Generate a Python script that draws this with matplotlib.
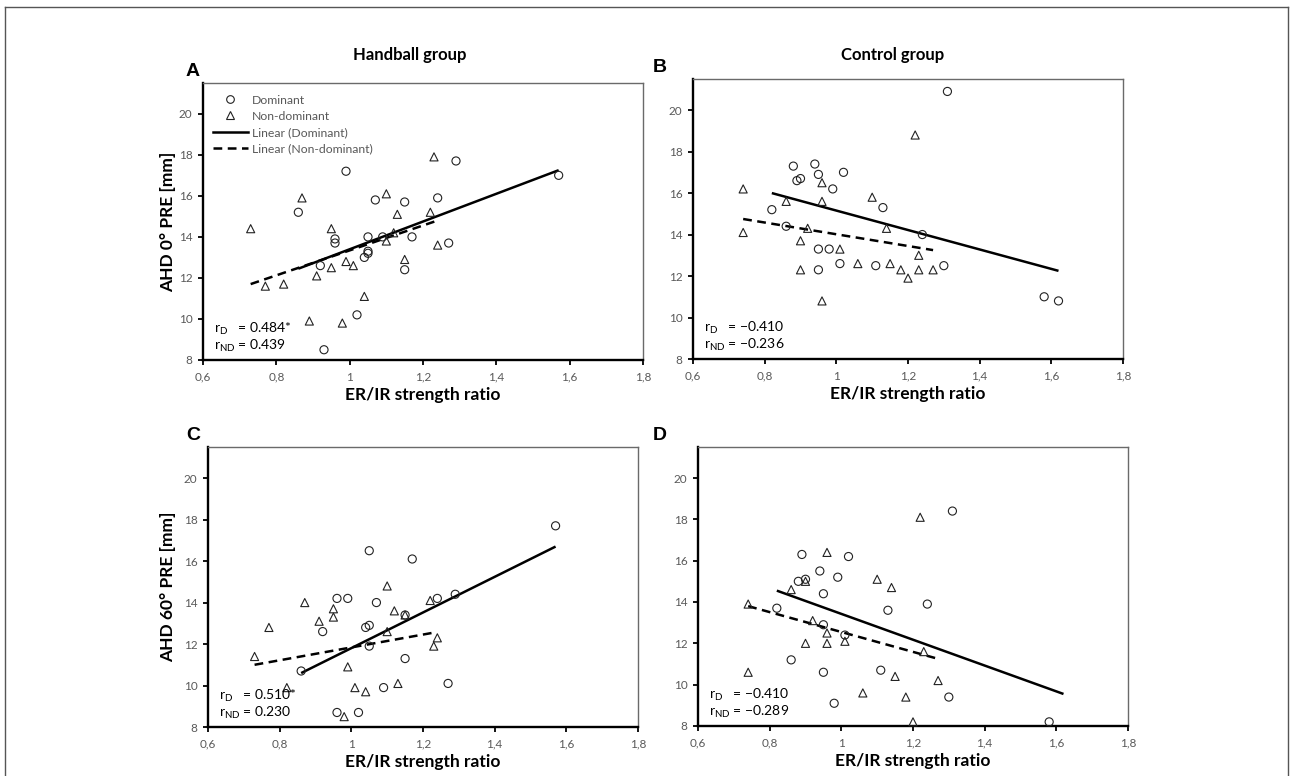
import matplotlib
matplotlib.use('Agg')
import matplotlib.pyplot as plt
from matplotlib.lines import Line2D

plt.rcParams['font.family'] = ['Lato', 'DejaVu Sans']
plt.rcParams['mathtext.fontset'] = 'custom'
plt.rcParams['mathtext.rm'] = 'Lato'

# axis settings
xticks = [0.6, 0.8, 1.0, 1.2, 1.4, 1.6, 1.8]
xticklabels = ['0,6', '0,8', '1', '1,2', '1,4', '1,6', '1,8']
yticks = [8, 10, 12, 14, 16, 18, 20]

# panel A: handball, AHD 0°
a_dom_x = [0.99, 0.86, 0.96, 0.96, 0.92, 1.02, 0.93, 1.04, 1.05, 1.05, 1.05, 1.07, 1.09, 1.15, 1.15, 1.17, 1.24, 1.27, 1.29, 1.57]
a_dom_y = [17.2, 15.2, 13.9, 13.7, 12.6, 10.2, 8.5, 13.0, 13.3, 13.2, 14.0, 15.8, 14.0, 15.7, 12.4, 14.0, 15.9, 13.7, 17.7, 17.0]
a_nd_x = [0.73, 0.77, 0.82, 0.87, 0.89, 0.91, 0.95, 0.95, 0.98, 0.99, 1.01, 1.04, 1.10, 1.10, 1.12, 1.13, 1.15, 1.22, 1.23, 1.24]
a_nd_y = [14.4, 11.6, 11.7, 15.9, 9.9, 12.1, 14.4, 12.5, 9.8, 12.8, 12.6, 11.1, 16.1, 13.8, 14.2, 15.1, 12.9, 15.2, 17.9, 13.6]
a_fit_dom = ([0.86, 1.57], [12.45, 17.25])
a_fit_nd = ([0.73, 1.24], [11.7, 14.8])
a_r = ('0.484*', '0.439')

# panel B: control, AHD 0°
b_dom_x = [1.31, 0.88, 0.94, 0.89, 0.90, 0.95, 1.02, 0.99, 0.82, 0.86, 0.95, 0.98, 0.95, 1.01, 1.11, 1.13, 1.24, 1.30, 1.58, 1.62]
b_dom_y = [20.9, 17.3, 17.4, 16.6, 16.7, 16.9, 17.0, 16.2, 15.2, 14.4, 13.3, 13.3, 12.3, 12.6, 12.5, 15.3, 14.0, 12.5, 11.0, 10.8]
b_nd_x = [0.74, 0.74, 0.86, 0.90, 0.90, 0.92, 0.96, 0.96, 0.96, 1.01, 1.06, 1.10, 1.14, 1.15, 1.18, 1.20, 1.22, 1.23, 1.23, 1.27]
b_nd_y = [16.2, 14.1, 15.6, 13.7, 12.3, 14.3, 16.5, 15.6, 10.8, 13.3, 12.6, 15.8, 14.3, 12.6, 12.3, 11.9, 18.8, 13.0, 12.3, 12.3]
b_fit_dom = ([0.82, 1.62], [16.0, 12.25])
b_fit_nd = ([0.74, 1.27], [14.75, 13.25])
b_r = ('\u22120.410', '\u22120.236')

# panel C: handball, AHD 60°
c_dom_x = [1.57, 1.05, 1.17, 0.96, 0.99, 1.07, 1.24, 1.29, 1.15, 1.04, 1.05, 0.92, 1.05, 1.15, 0.86, 1.09, 1.27, 0.96, 1.02]
c_dom_y = [17.7, 16.5, 16.1, 14.2, 14.2, 14.0, 14.2, 14.4, 13.4, 12.8, 12.9, 12.6, 11.9, 11.3, 10.7, 9.9, 10.1, 8.7, 8.7]
c_nd_x = [0.73, 0.77, 0.82, 0.87, 0.91, 0.95, 0.95, 0.98, 0.99, 1.01, 1.04, 1.10, 1.10, 1.12, 1.13, 1.15, 1.22, 1.23, 1.24]
c_nd_y = [11.4, 12.8, 9.9, 14.0, 13.1, 13.7, 13.3, 8.5, 10.9, 9.9, 9.7, 14.8, 12.6, 13.6, 10.1, 13.4, 14.1, 11.9, 12.3]
c_fit_dom = ([0.86, 1.57], [10.6, 16.7])
c_fit_nd = ([0.73, 1.23], [11.0, 12.55])
c_r = ('0.510*', '0.230')

# panel D: control, AHD 60°
d_dom_x = [1.31, 0.89, 1.02, 0.94, 0.99, 0.88, 0.90, 0.95, 0.82, 1.13, 1.24, 0.95, 1.01, 0.86, 0.95, 1.11, 0.98, 1.30, 1.58]
d_dom_y = [18.4, 16.3, 16.2, 15.5, 15.2, 15.0, 15.1, 14.4, 13.7, 13.6, 13.9, 12.9, 12.4, 11.2, 10.6, 10.7, 9.1, 9.4, 8.2]
d_nd_x = [0.74, 0.74, 0.86, 0.90, 0.90, 0.92, 0.96, 0.96, 0.96, 1.01, 1.06, 1.10, 1.14, 1.15, 1.18, 1.20, 1.22, 1.23, 1.27]
d_nd_y = [13.9, 10.6, 14.6, 15.0, 12.0, 13.1, 16.4, 12.5, 12.0, 12.1, 9.6, 15.1, 14.7, 10.4, 9.4, 8.2, 18.1, 11.6, 10.2]
d_fit_dom = ([0.82, 1.62], [14.55, 9.55])
d_fit_nd = ([0.74, 1.27], [13.8, 11.25])
d_r = ('\u22120.410', '\u22120.289')

W, H = 1290, 776
fig = plt.figure(figsize=(W / 100, H / 100), dpi=100)

def px_axes(l, t, r, b):
    return fig.add_axes([l / W, 1 - b / H, (r - l) / W, (b - t) / H])

panels = [
    # letter, box (l, t, r, b) in pixels, letter x, data, ylabel
    ('A', (203, 83, 643, 360), 193, a_dom_x, a_dom_y, a_nd_x, a_nd_y, a_fit_dom, a_fit_nd, a_r, 'AHD 0° PRE [mm]'),
    ('B', (693, 79, 1123, 359), 660, b_dom_x, b_dom_y, b_nd_x, b_nd_y, b_fit_dom, b_fit_nd, b_r, None),
    ('C', (208, 447, 638, 727), 193, c_dom_x, c_dom_y, c_nd_x, c_nd_y, c_fit_dom, c_fit_nd, c_r, 'AHD 60° PRE [mm]'),
    ('D', (698, 447, 1128, 726), 660, d_dom_x, d_dom_y, d_nd_x, d_nd_y, d_fit_dom, d_fit_nd, d_r, None),
]

gray = '#595959'
mk = '#222222'
for letter, box, lx, dx, dy, nx, ny, fd, fn, rv, ylab in panels:
    l, t, r, b = box
    ax = px_axes(l, t, r, b)
    ax.set_xlim(0.6, 1.8)
    ax.set_ylim(8, 21.5)
    ax.set_xticks(xticks, labels=xticklabels)
    ax.set_yticks(yticks)
    ax.tick_params(direction='out', length=3.5, width=1.3, color='black',
                   labelcolor=gray, labelsize=8.5, pad=4)
    ax.tick_params(axis='x', pad=5)
    for s in ['left', 'bottom']:
        ax.spines[s].set_linewidth(1.7)
        ax.spines[s].set_color('black')
    for s in ['top', 'right']:
        ax.spines[s].set_linewidth(1.0)
        ax.spines[s].set_color('#6a6a6a')

    ax.scatter(dx, dy, s=34, marker='o', facecolors='none', edgecolors=mk,
               linewidths=0.8, clip_on=False, zorder=3)
    ax.scatter(nx, ny, s=34, marker='^', facecolors='none', edgecolors=mk,
               linewidths=0.8, clip_on=False, zorder=3)
    ax.plot(fd[0], fd[1], color='black', lw=1.8, solid_capstyle='butt', zorder=2)
    ax.plot(fn[0], fn[1], color='black', lw=1.8, dashes=(3.5, 2.2), zorder=2)

    h_px = b - t
    ax.text(11 / (r - l), 31 / h_px, 'r$_\\mathregular{D}$   = ' + rv[0], transform=ax.transAxes,
            fontsize=10, va='center', ha='left')
    ax.text(11 / (r - l), 14 / h_px, 'r$_\\mathregular{ND}$ = ' + rv[1], transform=ax.transAxes,
            fontsize=10, va='center', ha='left')

    ax.set_xlabel('ER/IR strength ratio', fontsize=12.5, fontweight='bold')
    ax.xaxis.set_label_coords(0.5, -27 / h_px)
    if ylab:
        ax.set_ylabel(ylab, fontsize=12.5, fontweight='bold')
        ax.yaxis.set_label_coords(-(l - 176) / (r - l), 0.5)

    fig.text(lx / W, 1 - (t - 12) / H, letter, fontsize=14, fontweight='bold',
             family='Liberation Sans', ha='center', va='center')

    if letter == 'A':
        handles = [
            Line2D([], [], ls='none', marker='o', mfc='none', mec=mk, ms=5.5, mew=0.8),
            Line2D([], [], ls='none', marker='^', mfc='none', mec=mk, ms=5.8, mew=0.8),
            Line2D([], [], color='black', lw=1.8),
            Line2D([], [], color='black', lw=1.8, dashes=(3.5, 2.2)),
        ]
        ax.legend(handles, ['Dominant', 'Non-dominant', 'Linear (Dominant)', 'Linear (Non-dominant)'],
                  loc='upper left', bbox_to_anchor=(0.022, 0.958), frameon=False, fontsize=8.8,
                  labelcolor=gray, handlelength=2.9, handletextpad=0.3, labelspacing=0.42,
                  borderaxespad=0, borderpad=0)

fig.text(410 / W, 1 - 55 / H, 'Handball group', fontsize=12, fontweight='bold', ha='center', va='center')
fig.text(893 / W, 1 - 55 / H, 'Control group', fontsize=12, fontweight='bold', ha='center', va='center')

# outer frame (left, top, right)
fc = '#555555'
fig.add_artist(Line2D([5 / W, 5 / W], [0, 1 - 7 / H], color=fc, lw=1.0, transform=fig.transFigure))
fig.add_artist(Line2D([5 / W, 1288 / W], [1 - 7 / H, 1 - 7 / H], color=fc, lw=1.0, transform=fig.transFigure))
fig.add_artist(Line2D([1288 / W, 1288 / W], [0, 1 - 7 / H], color=fc, lw=1.0, transform=fig.transFigure))

fig.savefig('out.png', dpi=100)
